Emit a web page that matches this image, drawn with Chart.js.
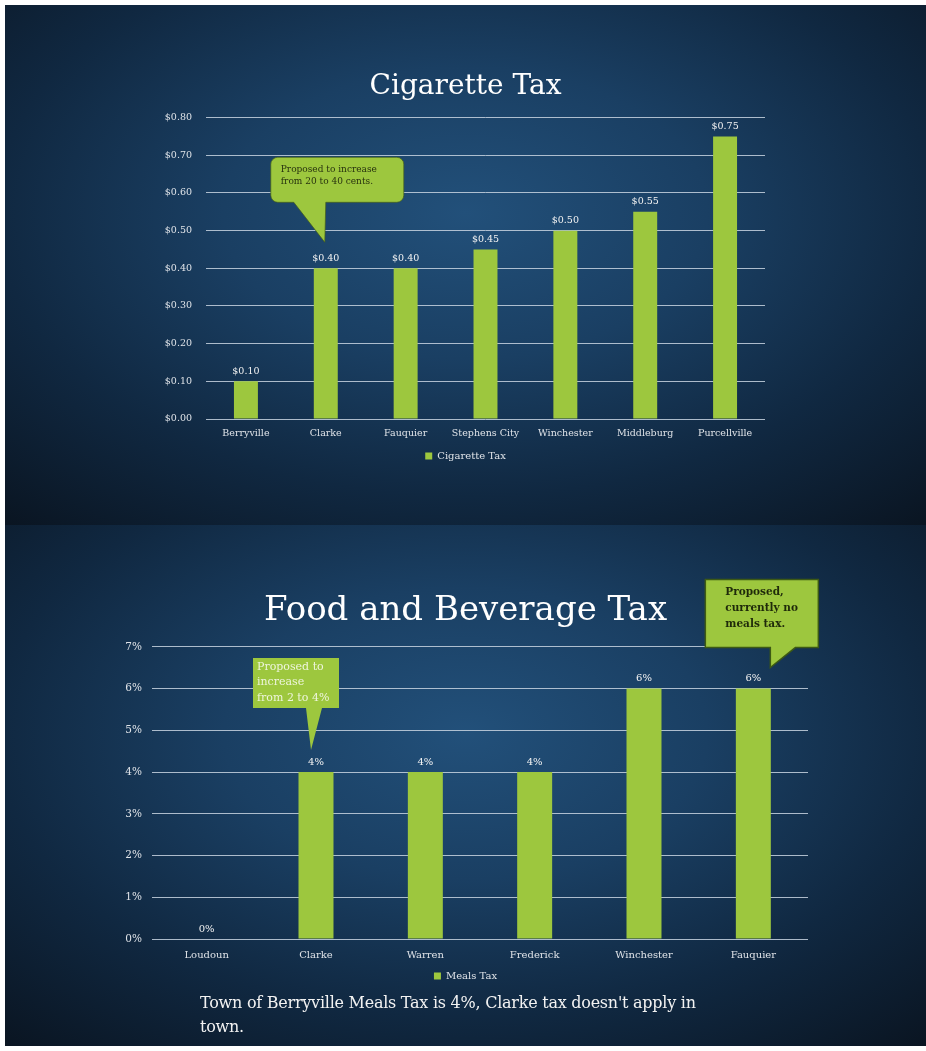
<!DOCTYPE html>
<html>
<head>
<meta charset="utf-8">
<script src="https://cdn.jsdelivr.net/npm/chart.js@4.4.1/dist/chart.umd.min.js"></script>
<style>
  html, body { margin: 0; padding: 0; background: #fff; }
  body { width: 926px; height: 1051px; position: relative; overflow: hidden; }
  .slide {
    position: absolute; left: 5px; width: 921px; overflow: hidden;
    background: radial-gradient(ellipse 75% 80% at 50% 40%, #22507a 0%, #1a3f63 35%, #102841 68%, #0a1522 100%);
  }
  #slide1 { top: 5px; height: 520px; }
  #slide2 { top: 525px; height: 521px; }
  .slide canvas { position: absolute; left: 0; top: 0; }
  .note {
    position: absolute; left: 195px; top: 466px; color: #f2f2f2;
    font: 16px 'DejaVu Serif', serif; line-height: 24px; letter-spacing: -0.25px;
  }
</style>
</head>
<body>
<div class="slide" id="slide1">
  <canvas id="cigChart" width="921" height="520"></canvas>
</div>
<div class="slide" id="slide2">
  <canvas id="mealsChart" width="921" height="521"></canvas>
  <div class="note">Town of Berryville Meals Tax is 4%, Clarke tax doesn't apply in<br>town.</div>
</div>
<script>
// Cigarette tax per pack
const cigTowns = ['Berryville', 'Clarke', 'Fauquier', 'Stephens City', 'Winchester', 'Middleburg', 'Purcellville'];
const cigTax = [0.10, 0.40, 0.40, 0.45, 0.50, 0.55, 0.75];
const cigAxis = [0, 0.8, 0.1];

// Meals tax, percent
const mealsPlaces = ['Loudoun', 'Clarke', 'Warren', 'Frederick', 'Winchester', 'Fauquier'];
const mealsTax = [0, 4, 4, 4, 6, 6];
const mealsAxis = [0, 7, 1];

const GREEN = '#9dc73e';
const GRID = 'rgba(200, 212, 225, 0.85)';
const LABEL = '#dfe3e8';

Chart.defaults.font.family = "'DejaVu Serif', serif";
Chart.defaults.color = LABEL;

// value labels above each bar
const barLabels = {
    id: 'barLabels',
    afterDatasetsDraw(chart, args, opts) {
        const ctx = chart.ctx;
        const values = chart.data.datasets[0].data;
        ctx.save();
        ctx.font = opts.font;
        ctx.fillStyle = opts.color;
        ctx.textAlign = 'center';
        ctx.textBaseline = 'middle';
        chart.getDatasetMeta(0).data.forEach((bar, i) => {
            ctx.fillText(opts.format(values[i]), bar.x, bar.y - opts.offset);
        });
        ctx.restore();
    }
};

// speech-bubble notes pointing at a bar
const callouts = {
    id: 'callouts',
    afterDatasetsDraw(chart, args, opts) {
        const ctx = chart.ctx;
        const meta = chart.getDatasetMeta(0);
        (opts.items || []).forEach(c => {
            const bar = meta.data[c.index];
            const tx = bar.x + c.tip[0], ty = bar.y + c.tip[1];
            const l = tx + c.box[0], r = tx + c.box[1], t = ty + c.box[2], b = ty + c.box[3];
            const rad = c.radius || 0;
            ctx.save();
            ctx.beginPath();
            ctx.moveTo(l + rad, t);
            ctx.lineTo(r - rad, t);
            ctx.arcTo(r, t, r, t + rad, rad);
            ctx.lineTo(r, b - rad);
            ctx.arcTo(r, b, r - rad, b, rad);
            ctx.lineTo(tx + c.tail[1], b);
            ctx.lineTo(tx, ty);
            ctx.lineTo(tx + c.tail[0], b);
            ctx.lineTo(l + rad, b);
            ctx.arcTo(l, b, l, b - rad, rad);
            ctx.lineTo(l, t + rad);
            ctx.arcTo(l, t, l + rad, t, rad);
            ctx.closePath();
            ctx.fillStyle = GREEN;
            ctx.fill();
            if (c.stroke) {
                ctx.strokeStyle = c.stroke;
                ctx.lineWidth = c.lineWidth || 1;
                ctx.stroke();
            }
            ctx.font = c.font;
            ctx.fillStyle = c.color;
            ctx.textAlign = 'left';
            ctx.textBaseline = 'middle';
            c.lines.forEach((s, k) => ctx.fillText(s, l + c.pad[0], t + c.pad[1] + k * c.lineHeight));
            ctx.restore();
        });
    }
};

function makeChart(id, cfg) {
    return new Chart(document.getElementById(id), {
        type: 'bar',
        data: {
            labels: cfg.labels,
            datasets: [{
                label: cfg.series,
                data: cfg.values,
                backgroundColor: GREEN,
                borderWidth: 0,
                categoryPercentage: 1,
                barPercentage: cfg.barPct
            }]
        },
        options: {
            responsive: false,
            animation: false,
            layout: { padding: { left: 0, right: 0, top: 0, bottom: cfg.padBottom } },
            scales: {
                x: {
                    grid: { display: false, drawTicks: false },
                    border: { display: false },
                    ticks: { color: LABEL, font: { size: cfg.xFont }, padding: cfg.xPad, maxRotation: 0, autoSkip: false },
                    afterFit: a => { a.height = cfg.xHeight; }
                },
                y: {
                    min: cfg.axis[0],
                    max: cfg.axis[1],
                    grid: { color: GRID, lineWidth: 1, drawTicks: false },
                    border: { display: false },
                    ticks: { stepSize: cfg.axis[2], color: LABEL, font: { size: cfg.yFont }, padding: cfg.yPad, callback: cfg.tickFmt },
                    afterFit: a => { a.width = cfg.left; }
                },
                yr: {
                    position: 'right',
                    grid: { display: false, drawTicks: false },
                    border: { display: false },
                    ticks: { display: false },
                    afterFit: a => { a.width = cfg.right; }
                }
            },
            plugins: {
                title: {
                    display: true,
                    text: cfg.title,
                    color: '#ffffff',
                    font: { size: cfg.titleSize, weight: 'normal' },
                    padding: { top: cfg.titleTop, bottom: cfg.titleBottom }
                },
                legend: {
                    position: 'bottom',
                    labels: { boxWidth: 7, boxHeight: 7, color: LABEL, font: { size: 10 }, padding: cfg.legendPad }
                },
                tooltip: { enabled: false },
                barLabels: { font: cfg.valueFont, color: '#f2f2f2', offset: 10, format: cfg.valueFmt },
                callouts: { items: cfg.callouts }
            }
        },
        plugins: [barLabels, callouts]
    });
}

makeChart('cigChart', {
    labels: cigTowns,
    values: cigTax,
    series: 'Cigarette Tax',
    axis: cigAxis,
    title: 'Cigarette Tax',
    titleSize: 28, titleTop: 65, titleBottom: 14,
    left: 201, right: 161, yPad: 14, yFont: 9.5,
    xFont: 9.5, xPad: 9, xHeight: 23, legendPad: 9, padBottom: 54,
    barPct: 0.3,
    tickFmt: v => '$' + v.toFixed(2),
    valueFmt: v => '$' + v.toFixed(2),
    valueFont: '9.5px "DejaVu Serif", serif',
    callouts: [{
        index: 1, tip: [-1, -26], box: [-54, 79, -85, -40], tail: [-31, 1], radius: 7,
        stroke: 'rgba(70, 95, 25, 0.7)', lineWidth: 1,
        font: '9px "DejaVu Serif", serif', color: '#28330f', pad: [10, 12], lineHeight: 12,
        lines: ['Proposed to increase', 'from 20 to 40 cents.']
    }]
});

makeChart('mealsChart', {
    labels: mealsPlaces,
    values: mealsTax,
    series: 'Meals Tax',
    axis: mealsAxis,
    title: 'Food and Beverage Tax',
    titleSize: 34, titleTop: 66, titleBottom: 15,
    left: 147, right: 118, yPad: 10, yFont: 10.5,
    xFont: 10, xPad: 10, xHeight: 23, legendPad: 9, padBottom: 55,
    barPct: 0.32,
    tickFmt: v => v + '%',
    valueFmt: v => v + '%',
    valueFont: '10px "DejaVu Serif", serif',
    callouts: [{
        index: 1, tip: [-5, -22], box: [-58, 28, -92, -42], tail: [-5, 11], radius: 0,
        font: '11px "DejaVu Serif", serif', color: '#eef5dc', pad: [4, 9], lineHeight: 15.5,
        lines: ['Proposed to', 'increase', 'from 2 to 4%']
    }, {
        index: 5, tip: [17, -21], box: [-65, 48, -88, -20], tail: [0, 25], radius: 0,
        stroke: '#3d5a14', lineWidth: 1.5,
        font: 'bold 10.5px "DejaVu Serif", serif', color: '#1f2a0a', pad: [20, 13], lineHeight: 16,
        lines: ['Proposed,', 'currently no', 'meals tax.']
    }]
});
</script>
</body>
</html>
